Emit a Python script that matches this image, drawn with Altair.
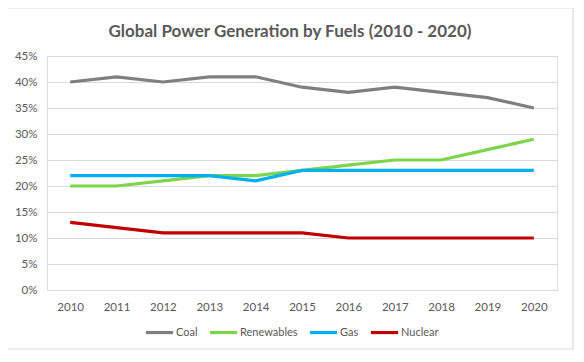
import altair as alt
import pandas as pd

years = ["2010", "2011", "2012", "2013", "2014", "2015", "2016", "2017", "2018", "2019", "2020"]
coal = [40, 41, 40, 41, 41, 39, 38, 39, 38, 37, 35]
renewables = [20, 20, 21, 22, 22, 23, 24, 25, 25, 27, 29]
gas = [22, 22, 22, 22, 21, 23, 23, 23, 23, 23, 23]
nuclear = [13, 12, 11, 11, 11, 11, 10, 10, 10, 10, 10]

fuels = ["Coal", "Renewables", "Gas", "Nuclear"]
colors = ["#7f7f7f", "#7ed44a", "#00b0f0", "#c00000"]

rows = []
for name, vals in zip(fuels, [coal, renewables, gas, nuclear]):
    for y, v in zip(years, vals):
        rows.append({"Year": y, "Fuel": name, "Share": v / 100})
df = pd.DataFrame(rows)

FONT = "Lato"
TXT = "#595959"

lines = alt.Chart(df).mark_line(strokeWidth=3.2, strokeCap="butt").encode(
    x=alt.X("Year:O", sort=years, title=None,
            scale=alt.Scale(paddingInner=1, paddingOuter=0.5),
            axis=alt.Axis(labelAngle=0, ticks=False, domain=False, labelPadding=11,
                          labelColor=TXT, labelFontSize=11.5, labelFont=FONT, grid=False)),
    y=alt.Y("Share:Q", title=None,
            scale=alt.Scale(domain=[0, 0.45], nice=False),
            axis=alt.Axis(format=".0%", values=[i / 100 for i in range(0, 50, 5)],
                          ticks=False, domain=False, labelPadding=10,
                          labelColor=TXT, labelFontSize=11.5, labelFont=FONT,
                          gridColor="#d9d9d9", gridWidth=1.2)),
    color=alt.Color("Fuel:N", sort=fuels, scale=alt.Scale(domain=fuels, range=colors),
                    legend=alt.Legend(title=None, orient="none", direction="horizontal",
                                      legendX=97, legendY=261,
                                      symbolType="stroke", symbolSize=740, symbolStrokeWidth=3.2,
                                      labelOffset=1, columnPadding=5,
                                      labelColor=TXT, labelFontSize=11, labelFont=FONT)),
    order=alt.Order("Year:O"),
)

border = alt.Chart(pd.DataFrame({"a": [0]})).mark_rect(
    fill="white", fillOpacity=0, stroke="#d9d9d9", strokeWidth=1.2
).encode(
    x=alt.value(-40), x2=alt.value(526), y=alt.value(-48), y2=alt.value(293)
)

chart = alt.layer(border, lines).properties(
    width=510, height=234,
    autosize=alt.AutoSizeParams(type="none"),
    padding={"left": 39, "top": 48, "right": 19, "bottom": 64},
    title=alt.TitleParams("Global Power Generation by Fuels (2010 - 2020)",
                          font=FONT, fontSize=17, fontWeight="bold", color=TXT,
                          anchor="middle", dx=-12, offset=-34),
).configure_view(stroke=None).configure(background="white")

chart.save("out.html", embed_options={"renderer": "svg", "actions": False})
